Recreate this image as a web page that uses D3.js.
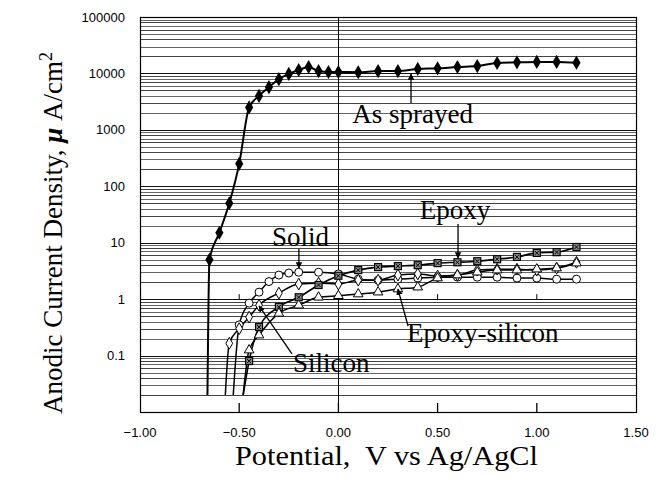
<!DOCTYPE html>
<html>
  <head>
  <script src="https://cdnjs.cloudflare.com/ajax/libs/d3/7.8.5/d3.min.js"></script>
    <meta charset="utf-8">
    <title>Anodic polarization</title>
    <style>
      body { margin: 0; background: #fff; }
    </style>
  </head>
  <body>
    <script>
      // potential (V vs Ag/AgCl) and current density (uA/cm2)
      var sprayedX = [-0.66, -0.65, -0.60, -0.55, -0.50, -0.45, -0.40, -0.35, -0.30, -0.25, -0.20, -0.15, -0.10, -0.05, 0.0, 0.1, 0.2, 0.3, 0.4, 0.5, 0.6, 0.7, 0.8, 0.9, 1.0, 1.1, 1.2];
      var sprayedY = [0.02, 5, 15, 50, 250, 2500, 4000, 5700, 7900, 9800, 11500, 13000, 11000, 10600, 10600, 10500, 11000, 11000, 12000, 12300, 13000, 13500, 15300, 15700, 16000, 16000, 15500];

      var solidX = [-0.53, -0.50, -0.45, -0.40, -0.35, -0.30, -0.25, -0.20, -0.10, 0.0, 0.1, 0.2, 0.3, 0.4, 0.5, 0.6, 0.7, 0.8, 0.9, 1.0, 1.1, 1.2];
      var solidY = [0.02, 0.35, 0.85, 1.33, 2.05, 2.67, 2.9, 3.0, 3.0, 2.8, 2.26, 2.17, 2.26, 2.36, 2.45, 2.45, 2.45, 2.45, 2.36, 2.36, 2.26, 2.26];

      var siliconX = [-0.57, -0.55, -0.50, -0.45, -0.40, -0.30, -0.20, -0.10, 0.0, 0.1, 0.2, 0.3, 0.4, 0.5, 0.6, 0.7, 0.8, 0.9, 1.0, 1.1, 1.2];
      var siliconY = [0.02, 0.165, 0.3, 0.48, 0.78, 1.28, 1.85, 1.92, 1.85, 2.17, 2.17, 2.67, 2.8, 2.56, 2.67, 3.27, 3.4, 3.4, 3.27, 3.55, 4.5];

      var epoxyX = [-0.48, -0.45, -0.40, -0.30, -0.20, -0.10, 0.0, 0.1, 0.2, 0.3, 0.4, 0.5, 0.6, 0.7, 0.8, 0.9, 1.0, 1.1, 1.2];
      var epoxyY = [0.02, 0.08, 0.32, 0.73, 1.08, 1.78, 2.6, 3.27, 3.7, 3.85, 4.0, 4.35, 4.5, 4.7, 5.1, 5.6, 6.6, 6.8, 8.4];

      var epSilX = [-0.48, -0.45, -0.40, -0.30, -0.20, -0.10, 0.0, 0.1, 0.2, 0.3, 0.4, 0.5, 0.6, 0.7, 0.8, 0.9, 1.0, 1.1, 1.2];
      var epSilY = [0.02, 0.125, 0.23, 0.56, 0.78, 1.08, 1.15, 1.23, 1.33, 1.51, 1.63, 2.36, 2.67, 3.0, 3.27, 3.27, 3.4, 3.55, 4.35];

      var xTicks = [-1.0, -0.5, 0.0, 0.5, 1.0, 1.5];
      var xTickLabels = ["\u22121.00", "\u22120.50", "0.00", "0.50", "1.00", "1.50"];
      var yTicks = [100000, 10000, 1000, 100, 10, 1, 0.1];
      var yTickLabels = ["100000", "10000", "1000", "100", "10", "1", "0.1"];

      // labels: text start and baseline, arrow tail and head, in data units
      var labelText = ["As sprayed", "Epoxy", "Solid", "Epoxy-silicon", "Silicon"];
      var labelPos = [[0.07, 1324], [0.41, 26.3], [-0.335, 8.75], [0.346, 0.174], [-0.229, 0.0512]];
      var arrowFrom = [[0.366, 2990], [0.603, 21.5], [-0.199, 7.74], [0.351, 0.334], [-0.234, 0.107]];
      var arrowTo = [[0.366, 9770], [0.603, 5.36], [-0.199, 3.56], [0.30, 1.51], [-0.40, 0.757]];

      var svg = d3.select("body").append("svg")
                  .attr("width", 657)
                  .attr("height", 491);

      var x = d3.scaleLinear().domain([-1, 1.5]).range([140, 636]);
      var y = d3.scaleLog().domain([0.01, 100000]).range([412, 17]);

      // horizontal log grid, one line per minor step
      var grid = [];
      for (var k = -2; k < 5; k++) {
        for (var m = 1; m <= 9; m++) {
          grid.push(m * Math.pow(10, k));
        }
      }
      svg.append("g").selectAll("line")
         .data(grid)
         .enter().append("line")
         .attr("x1", x(-1)).attr("x2", x(1.5))
         .attr("y1", function (d) { return Math.round(y(d)) + 0.5; })
         .attr("y2", function (d) { return Math.round(y(d)) + 0.5; })
         .attr("stroke", function (d, i) { return i % 9 == 0 ? "#111" : (i % 2 ? "#444" : "#666"); })
         .attr("stroke-width", 1);

      // frame and the y axis crossing at 0 V
      svg.append("rect")
         .attr("x", x(-1) + 0.5).attr("y", y(100000) + 0.5)
         .attr("width", x(1.5) - x(-1)).attr("height", y(0.01) - y(100000))
         .attr("fill", "none").attr("stroke", "#000").attr("stroke-width", 1.2);
      svg.append("line")
         .attr("x1", Math.round(x(0)) + 0.5).attr("x2", Math.round(x(0)) + 0.5)
         .attr("y1", y(100000)).attr("y2", y(0.01))
         .attr("stroke", "#000").attr("stroke-width", 1);

      // tick marks at bottom and at the crossing line y = 1
      svg.append("g").selectAll("line.tb")
         .data(xTicks.slice(1, 5))
         .enter().append("line")
         .attr("x1", function (d) { return x(d); }).attr("x2", function (d) { return x(d); })
         .attr("y1", y(0.01) - 9).attr("y2", y(0.01))
         .attr("stroke", "#000").attr("stroke-width", 1.3);
      svg.append("g").selectAll("line.tm")
         .data(xTicks.slice(1, 5))
         .enter().append("line")
         .attr("x1", function (d) { return x(d); }).attr("x2", function (d) { return x(d); })
         .attr("y1", y(1) - 5).attr("y2", y(1))
         .attr("stroke", "#000").attr("stroke-width", 1);

      svg.append("g").selectAll("text")
         .data(xTicks)
         .enter().append("text")
         .attr("x", function (d) { return x(d); })
         .attr("y", 437)
         .attr("text-anchor", "middle")
         .style("font-family", "Liberation Sans, Arial, sans-serif")
         .style("font-size", "13px")
         .text(function (d, i) { return xTickLabels[i]; });

      svg.append("g").selectAll("text")
         .data(yTicks)
         .enter().append("text")
         .attr("x", 125)
         .attr("y", function (d) { return y(d) + 4.5; })
         .attr("text-anchor", "end")
         .style("font-family", "Liberation Sans, Arial, sans-serif")
         .style("font-size", "13px")
         .text(function (d, i) { return yTickLabels[i]; });

      // axis titles
      svg.append("text")
         .attr("x", 235).attr("y", 465)
         .attr("textLength", 303)
         .attr("lengthAdjust", "spacingAndGlyphs")
         .attr("xml:space", "preserve")
         .style("font-family", "Liberation Serif, Times New Roman, serif")
         .style("font-size", "27px")
         .text("Potential,  V vs Ag/AgCl");

      var yt = svg.append("text")
         .attr("transform", "translate(62,233) rotate(-90)")
         .attr("text-anchor", "middle")
         .style("font-family", "Liberation Serif, Times New Roman, serif")
         .style("font-size", "27px");
      yt.append("tspan").text("Anodic Current Density, ");
      yt.append("tspan").style("font-weight", "bold").style("font-style", "italic").text("\u03bc");
      yt.append("tspan").text(" A/cm");
      yt.append("tspan").attr("dy", -10).style("font-size", "18px").text("2");

      // curves
      var series = [
        { xs: sprayedX, ys: sprayedY, mark: "fdiamond", w: 2 },
        { xs: solidX, ys: solidY, mark: "circle", w: 1.5 },
        { xs: siliconX, ys: siliconY, mark: "diamond", w: 1.5 },
        { xs: epoxyX, ys: epoxyY, mark: "square", w: 1.6 },
        { xs: epSilX, ys: epSilY, mark: "triangle", w: 1.5 }
      ];

      var line = d3.line()
                   .x(function (d) { return x(d[0]); })
                   .y(function (d) { return y(d[1]); })
                   .curve(d3.curveMonotoneX);

      series.forEach(function (s) {
        var pts = s.xs.map(function (v, i) { return [v, s.ys[i]]; });
        svg.append("path")
           .attr("d", line(pts))
           .attr("fill", "none")
           .attr("stroke", "#000")
           .attr("stroke-width", s.w);
        s.pts = pts.slice(1);
      });

      series.forEach(function (s) {
        var g = svg.append("g").selectAll("g")
                   .data(s.pts)
                   .enter().append("g")
                   .attr("transform", function (d) { return "translate(" + x(d[0]) + "," + y(d[1]) + ")"; });
        if (s.mark == "fdiamond") {
          g.append("path").attr("d", d3.symbol().type(d3.symbolDiamond).size(58))
           .attr("fill", "#000");
        } else if (s.mark == "circle") {
          g.append("circle").attr("r", 4)
           .attr("fill", "#fff").attr("stroke", "#000").attr("stroke-width", 1);
        } else if (s.mark == "diamond") {
          g.append("path").attr("d", d3.symbol().type(d3.symbolDiamond).size(40))
           .attr("fill", "#fff").attr("stroke", "#000").attr("stroke-width", 1);
        } else if (s.mark == "triangle") {
          g.append("path").attr("d", d3.symbol().type(d3.symbolTriangle).size(40))
           .attr("fill", "#fff").attr("stroke", "#000").attr("stroke-width", 1);
        } else {
          g.append("rect").attr("x", -3.5).attr("y", -3.5).attr("width", 7).attr("height", 7)
           .attr("fill", "#8a8a8a").attr("stroke", "#000").attr("stroke-width", 1.2);
          g.append("path").attr("d", "M-2,-2L2,2M2,-2L-2,2")
           .attr("stroke", "#000").attr("stroke-width", 1);
        }
      });

      // annotations
      svg.append("defs").append("marker")
         .attr("id", "head")
         .attr("viewBox", "0 0 10 10")
         .attr("refX", 9).attr("refY", 5)
         .attr("markerWidth", 5).attr("markerHeight", 7)
         .attr("orient", "auto")
         .append("path").attr("d", "M0,0L10,5L0,10z").attr("fill", "#000");

      labelText.forEach(function (t, i) {
        svg.append("line")
           .attr("x1", x(arrowFrom[i][0])).attr("y1", y(arrowFrom[i][1]))
           .attr("x2", x(arrowTo[i][0])).attr("y2", y(arrowTo[i][1]))
           .attr("stroke", "#000").attr("stroke-width", 1.3)
           .attr("marker-end", "url(#head)");
        svg.append("text")
           .attr("x", x(labelPos[i][0])).attr("y", y(labelPos[i][1]))
           .style("font-family", "Liberation Serif, Times New Roman, serif")
           .style("font-size", "27px")
           .text(t);
      });
    </script>
  </body>
</html>
